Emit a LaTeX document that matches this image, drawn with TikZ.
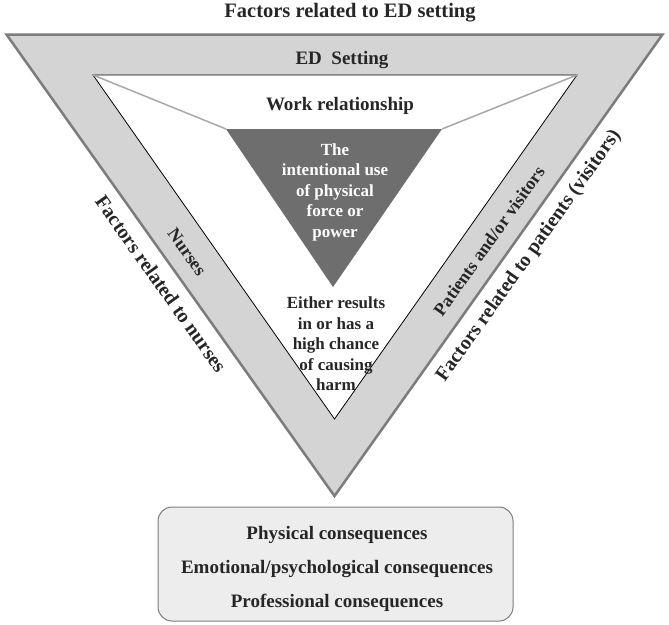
\documentclass[tikz,border=0pt]{standalone}
\usepackage{fontspec}
\setmainfont{Liberation Serif}
\definecolor{bandgray}{HTML}{D4D4D4}
\definecolor{edgegray}{HTML}{7C7C7C}
\definecolor{coregray}{HTML}{6E6E6E}
\definecolor{linkgray}{HTML}{A8A8A8}
\definecolor{boxgray}{HTML}{EDEDED}
\newcommand{\fs}[2]{\bfseries\fontsize{#1}{#2}\selectfont}

\begin{document}
\begin{tikzpicture}[x=1pt,y=-1pt]
        \tikzstyle{every node}+=[inner sep=0pt]
        \tikzstyle{bandtext}=[text=black!85, font=\fs{19}{23}]
        \tikzstyle{sidetext}=[text=black!85, font=\fs{20}{24}]
        \tikzstyle{coretext}=[align=center, font=\fs{17}{20.5}]
        \tikzstyle{link}=[draw=linkgray, line width=1.5pt]
        \useasboundingbox (0,0) rectangle (669,624);
        \coordinate (otl) at (6.5,34.5);
        \coordinate (otr) at (662.5,34.5);
        \coordinate (ob) at (334.5,496);
        \coordinate (itl) at (93,75);
        \coordinate (itr) at (577,75);
        \coordinate (ib) at (334.5,419);
        \coordinate (ctl) at (226,129);
        \coordinate (ctr) at (442,129);
        \coordinate (cb) at (333,287);
        \draw [draw=edgegray, fill=bandgray, line width=2.5pt] (otl) -- (otr) -- (ob) -- cycle;
        \draw [black, fill=white, line width=0.8pt] (itl) -- (itr) -- (ib) -- cycle;
        \draw [link] (itl) -- (ctl);
        \draw [link] (itr) -- (ctr);
        \fill [coregray] (ctl) -- (ctr) -- (cb) -- cycle;
        \node [sidetext, font=\fs{20.5}{24}] (title) at (350,13) {Factors related to ED setting};
        \node [bandtext] (ed) at (342,60) {ED\ \ Setting};
        \node [bandtext] (work) at (340,106) {Work relationship};
        \node [coretext, text=white] (force) at (335,192) {The\\intentional use\\of physical\\force or\\power};
        \node [coretext, text=black!85] (harm) at (336,344) {Either results\\in or has a\\high chance\\of causing\\harm};
        \node [sidetext, font=\fs{18}{22}, rotate=-54.6] (nurses) at (187,252) {Nurses};
        \node [sidetext, rotate=-54.6] (fnurses) at (161,284) {Factors related to nurses};
        \node [sidetext, font=\fs{18}{22}, rotate=54.6] (patients) at (489,241) {Patients and/or visitors};
        \node [sidetext, rotate=54.6] (fpatients) at (529,256) {Factors related to patients (visitors)};
        \node [draw=edgegray, fill=boxgray, line width=1pt, rounded corners=14pt,
               minimum width=355pt, minimum height=114pt] (result) at (335.5,564) {};
        \node [bandtext, align=center, font=\fs{19}{34}] (effects) at (337,569)
              {Physical consequences\\Emotional/psychological consequences\\Professional consequences};
        \end{tikzpicture}
\end{document}
